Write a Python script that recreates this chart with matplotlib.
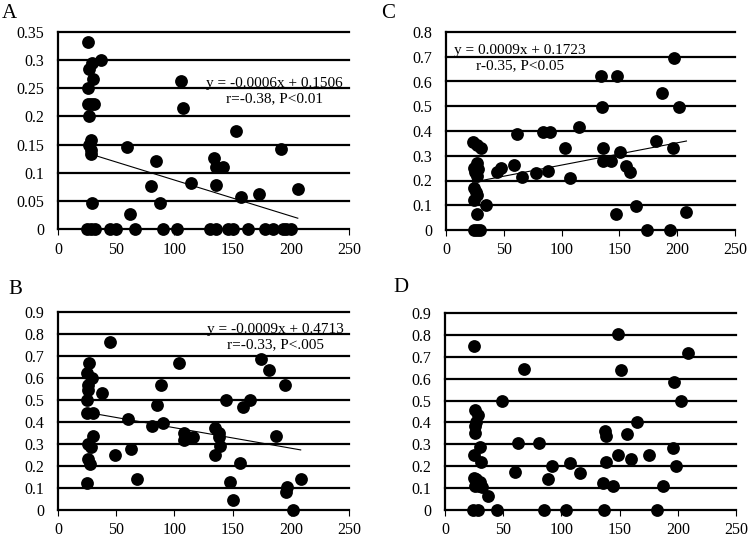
import matplotlib
matplotlib.use("Agg")
import matplotlib.pyplot as plt

plt.rcParams['font.family'] = ['Liberation Serif', 'DejaVu Serif']

# Panel A
a_x = [26, 37, 27, 29, 30, 26, 26, 28, 31, 27, 28, 27, 28, 28, 29,
       59, 106, 107, 84, 80, 88, 114, 62, 153, 192, 134, 136, 142, 136, 157, 173, 206,
       25, 28, 32, 45, 50, 66, 90, 102, 131, 136, 146, 150, 163, 178, 185, 193, 196, 200]
a_y = [0.333, 0.300, 0.285, 0.295, 0.267, 0.250, 0.222, 0.222, 0.222, 0.200, 0.158, 0.150, 0.141, 0.133, 0.047,
       0.146, 0.263, 0.215, 0.121, 0.076, 0.047, 0.082, 0.026, 0.174, 0.142, 0.126, 0.111, 0.111, 0.078, 0.057, 0.062, 0.071,
       0, 0, 0, 0, 0, 0, 0, 0, 0, 0, 0, 0, 0, 0, 0, 0, 0, 0]
a_trend = (-0.00064, 0.151)
a_text = "y = -0.0006x + 0.1506\nr=-0.38, P<0.01"
a_yticks = [0, 0.05, 0.1, 0.15, 0.2, 0.25, 0.3, 0.35]
a_ylabels = ["0", "0.05", "0.1", "0.15", "0.2", "0.25", "0.3", "0.35"]

# Panel B
b_x = [45, 27, 25, 29, 26, 26, 37.5, 25, 25, 30, 30, 26, 28, 26, 27.5, 25,
       60, 49, 63, 68, 80.5, 85, 88.5, 90.5, 104, 108, 108, 116,
       174, 181.5, 195, 144, 159, 165, 135, 138, 138, 139, 135, 187, 156, 148, 150.5,
       197, 196, 208.5, 202]
b_y = [0.765, 0.670, 0.624, 0.598, 0.568, 0.545, 0.533, 0.500, 0.442, 0.442, 0.336, 0.300, 0.285, 0.230, 0.209, 0.124,
       0.412, 0.250, 0.276, 0.140, 0.382, 0.477, 0.568, 0.397, 0.667, 0.348, 0.318, 0.333,
       0.685, 0.636, 0.568, 0.500, 0.470, 0.500, 0.371, 0.350, 0.330, 0.290, 0.250, 0.336, 0.215, 0.129, 0.045,
       0.105, 0.083, 0.140, 0]
b_trend = (-0.00093, 0.467)
b_text = "y = -0.0009x + 0.4713\nr=-0.33, P<.005"
b_yticks = [0, 0.1, 0.2, 0.3, 0.4, 0.5, 0.6, 0.7, 0.8, 0.9]
b_ylabels = ["0", "0.1", "0.2", "0.3", "0.4", "0.5", "0.6", "0.7", "0.8", "0.9"]

# Panel C
c_x = [23, 27, 30, 27, 24, 28, 25, 27, 24, 26, 27, 24, 35, 26.5, 24, 27, 29,
       44, 48, 59, 61, 66, 78, 84, 90, 88,
       103, 107, 115, 134, 148, 135, 136, 136, 143, 150.5, 156, 159, 147, 164, 174, 194, 208,
       197.5, 186.5, 201.5, 181.5, 196.5]
c_y = [0.357, 0.345, 0.333, 0.270, 0.250, 0.245, 0.236, 0.220, 0.168, 0.155, 0.141, 0.122, 0.101, 0.063, 0, 0, 0,
       0.236, 0.249, 0.263, 0.387, 0.216, 0.232, 0.397, 0.397, 0.238,
       0.330, 0.211, 0.415, 0.622, 0.622, 0.498, 0.333, 0.279, 0.279, 0.316, 0.260, 0.236, 0.065, 0.098, 0, 0, 0.071,
       0.696, 0.552, 0.498, 0.361, 0.333]
c_trend = (0.0009, 0.1723)
c_text = "y = 0.0009x + 0.1723\nr-0.35, P<0.05"
c_yticks = [0, 0.1, 0.2, 0.3, 0.4, 0.5, 0.6, 0.7, 0.8]
c_ylabels = ["0", "0.1", "0.2", "0.3", "0.4", "0.5", "0.6", "0.7", "0.8"]

# Panel D
d_x = [25, 68, 49, 25.5, 28.5, 27, 26, 25.5, 30, 24.5, 31, 25, 27, 30, 26, 29, 32, 37, 24, 28.5, 45, 85,
       63, 81, 60, 91.5, 88.5,
       149, 209, 151, 197, 202.5, 165, 137.5, 138.5, 156.5, 195.5, 149, 160, 175.5, 138.5, 198.5,
       107.5, 116, 135.5, 144, 187, 104, 136.5, 182]
d_y = [0.749, 0.644, 0.500, 0.457, 0.434, 0.400, 0.384, 0.350, 0.289, 0.251, 0.221, 0.145, 0.140, 0.130, 0.110, 0.110, 0.105, 0.064, 0, 0, 0, 0,
       0.304, 0.304, 0.175, 0.202, 0.140,
       0.802, 0.716, 0.639, 0.586, 0.500, 0.400, 0.362, 0.338, 0.346, 0.284, 0.251, 0.234, 0.251, 0.221, 0.201,
       0.216, 0.167, 0.125, 0.110, 0.110, 0, 0, 0]
d_yticks = b_yticks
d_ylabels = b_ylabels

xticks = [0, 50, 100, 150, 200, 250]

fig = plt.figure(figsize=(7.5, 5.39), dpi=100)
W, H = 750, 539


def make_ax(left, right, top, bottom):
    return fig.add_axes([left / W, 1 - bottom / H, (right - left) / W, (bottom - top) / H])


def draw_panel(ax, xs, ys, yticks, ylabels, trend=None, text=None, text_pos=None):
    ymax = yticks[-1]
    ax.set_xlim(0, 250)
    ax.set_ylim(0, ymax)
    for t in yticks:
        ax.axhline(t, color='black', lw=1.6, zorder=1, clip_on=False)
    ax.scatter(xs, ys, s=85, color='black', zorder=3, clip_on=False, linewidths=0)
    if trend is not None:
        x0, x1 = min(xs), max(xs)
        ax.plot([x0, x1], [trend[0] * x0 + trend[1], trend[0] * x1 + trend[1]],
                color='black', lw=0.8, zorder=2)
    if text is not None:
        ax.text(text_pos[0], text_pos[1], text, ha='center', va='center',
                fontsize=11, linespacing=1.2, zorder=4)
    for side in ['top', 'right', 'bottom']:
        ax.spines[side].set_visible(False)
    ax.spines['left'].set_linewidth(1.6)
    ax.set_yticks(yticks)
    ax.set_yticklabels(ylabels)
    ax.set_xticks(xticks)
    ax.tick_params(axis='y', length=0, pad=10, labelsize=11.5)
    ax.tick_params(axis='x', length=4, width=0.8, direction='out', pad=5, labelsize=11.5)


ax_a = make_ax(58, 349, 32, 229)
draw_panel(ax_a, a_x, a_y, a_yticks, a_ylabels, a_trend, a_text, (186, 0.245))

ax_c = make_ax(446, 735, 32, 230)
draw_panel(ax_c, c_x, c_y, c_yticks, c_ylabels, c_trend, c_text, (64, 0.693))

ax_b = make_ax(58, 349, 312, 510)
draw_panel(ax_b, b_x, b_y, b_yticks, b_ylabels, b_trend, b_text, (187, 0.787))

ax_d = make_ax(445, 736, 313, 510)
draw_panel(ax_d, d_x, d_y, d_yticks, d_ylabels)

for lab, px, py in [("A", 9, 13), ("C", 388, 14), ("B", 15, 290), ("D", 401, 288)]:
    fig.text(px / W, 1 - py / H, lab, fontsize=15, ha='center', va='center')

fig.savefig("out.png", dpi=100)
